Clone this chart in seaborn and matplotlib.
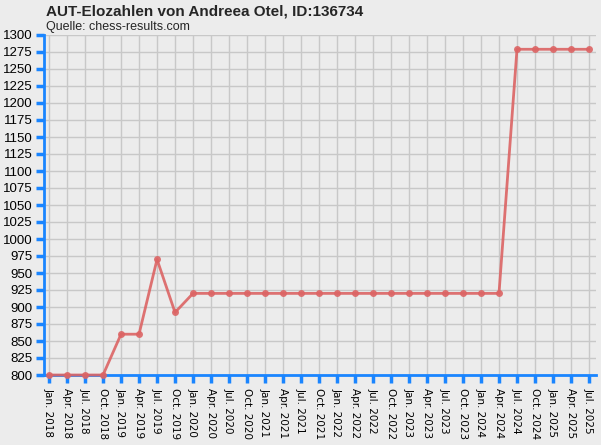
import matplotlib
matplotlib.use("Agg")
import matplotlib.pyplot as plt
import seaborn as sns
import pandas as pd

# quarterly rating snapshots
periods = ["Jan. 2018", "Apr. 2018", "Jul. 2018", "Oct. 2018",
           "Jan. 2019", "Apr. 2019", "Jul. 2019", "Oct. 2019",
           "Jan. 2020", "Apr. 2020", "Jul. 2020", "Oct. 2020",
           "Jan. 2021", "Apr. 2021", "Jul. 2021", "Oct. 2021",
           "Jan. 2022", "Apr. 2022", "Jul. 2022", "Oct. 2022",
           "Jan. 2023", "Apr. 2023", "Jul. 2023", "Oct. 2023",
           "Jan. 2024", "Apr. 2024", "Jul. 2024", "Oct. 2024",
           "Jan. 2025", "Apr. 2025", "Jul. 2025"]
elo = [800, 800, 800, 800,
       860, 860, 970, 892,
       920, 920, 920, 920,
       920, 920, 920, 920,
       920, 920, 920, 920,
       920, 920, 920, 920,
       920, 920, 1279, 1279,
       1279, 1279, 1279]
yticks = list(range(800, 1301, 25))

title = "AUT-Elozahlen von Andreea Otel, ID:136734"
source = "Quelle: chess-results.com"

bg = "#ececec"
blue = "#1a85ff"
red = "#dc6464"

sns.set_theme(style="whitegrid")
plt.rcParams["font.family"] = ["Liberation Sans", "DejaVu Sans"]

df = pd.DataFrame({"idx": range(len(periods)), "elo": elo})

fig = plt.figure(figsize=(6.01, 4.45), dpi=100, facecolor=bg)
ax = fig.add_axes([44 / 601, 70 / 445, 552 / 601, 340 / 445])
ax.set_facecolor(bg)

sns.lineplot(data=df, x="idx", y="elo", ax=ax, color=red, linewidth=2,
             marker="o", markersize=5, markeredgewidth=0, alpha=0.9,
             clip_on=False, zorder=5)

ax.set_xlim(-0.28, 30.39)
ax.set_ylim(800, 1300)
ax.set_xticks(range(len(periods)))
ax.set_xticklabels(periods, rotation=270, fontsize=7.5, family="DejaVu Sans")
ax.set_yticks(yticks)
ax.set_yticklabels([str(v) for v in yticks], fontsize=9.5)
ax.set_xlabel("")
ax.set_ylabel("")

ax.grid(True, color="#c8c8c8", linewidth=1)
for side in ["top", "right"]:
    ax.spines[side].set_visible(False)
for side in ["left", "bottom"]:
    ax.spines[side].set_color(blue)
    ax.spines[side].set_linewidth(2)
    ax.spines[side].set_zorder(3)
ax.tick_params(axis="both", direction="out", length=6, width=2.5, color=blue,
               pad=2, labelcolor="black", bottom=True, left=True)
ax.tick_params(axis="x", pad=3)

fig.text(46 / 601, 1 - 12 / 445, title, fontsize=11, fontweight="bold",
         va="center", ha="left")
fig.text(46 / 601, 1 - 27 / 445, source, fontsize=9, va="center", ha="left")

fig.savefig("out.png", dpi=100, facecolor=bg)
